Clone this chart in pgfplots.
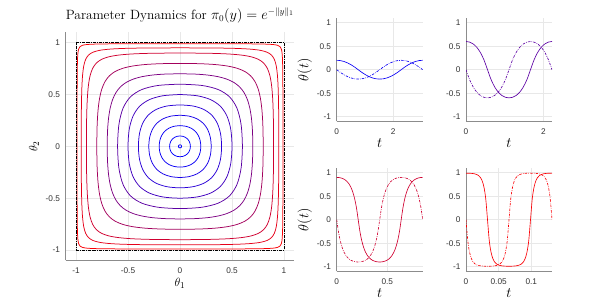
\documentclass[border=0pt]{standalone}
\usepackage{fontspec}
\usepackage{pgfplots}
\usepackage{pgfplotstable}
\pgfplotsset{compat=1.18}
\newfontfamily\tickfont{Liberation Sans}

\definecolor{cA}{rgb}{0.0002,0,0.9998}
\definecolor{cB}{rgb}{0.01,0,0.99}
\definecolor{cC}{rgb}{0.04,0,0.96}
\definecolor{cD}{rgb}{0.09,0,0.91}
\definecolor{cE}{rgb}{0.16,0,0.84}
\definecolor{cF}{rgb}{0.25,0,0.75}
\definecolor{cG}{rgb}{0.36,0,0.64}
\definecolor{cH}{rgb}{0.49,0,0.51}
\definecolor{cI}{rgb}{0.64,0,0.36}
\definecolor{cJ}{rgb}{0.81,0,0.19}
\definecolor{cK}{rgb}{0.9025,0,0.0975}
\definecolor{cL}{rgb}{0.9801,0,0.0199}

\pgfplotstableread{
t th1 th2
0 0 .2
.1267 -.0561 .1939
.2533 -.1056 .1757
.38 -.146 .146
.5067 -.1757 .1056
.6333 -.1939 .0561
.76 -.2 0
.8867 -.1939 -.0561
1.0133 -.1757 -.1056
1.14 -.146 -.146
1.2667 -.1056 -.1757
1.3933 -.0561 -.1939
1.52 0 -.2
1.6467 .0561 -.1939
1.7733 .1056 -.1757
1.9 .146 -.146
2.0267 .1757 -.1056
2.1533 .1939 -.0561
2.28 .2 0
2.4067 .1939 .0561
2.5333 .1757 .1056
2.66 .146 .146
2.7867 .1056 .1757
2.9133 .0561 .1939
3.04 0 .2
}\tsA

\pgfplotstableread{
t th1 th2
0 0 .6
.0925 -.2111 .5873
.185 -.3675 .5478
.2775 -.4769 .4769
.37 -.5478 .3675
.4625 -.5873 .2111
.555 -.6 0
.6475 -.5873 -.2111
.74 -.5478 -.3675
.8325 -.4769 -.4769
.925 -.3675 -.5478
1.0175 -.2111 -.5873
1.11 0 -.6
1.2025 .2111 -.5873
1.295 .3675 -.5478
1.3875 .4769 -.4769
1.48 .5478 -.3675
1.5725 .5873 -.2111
1.665 .6 0
1.7575 .5873 .2111
1.85 .5478 .3675
1.9425 .4769 .4769
2.035 .3675 .5478
2.1275 .2111 .5873
2.22 0 .6
}\tsB

\pgfplotstableread{
t th1 th2
0 0 .9
.0177 -.2596 .898
.0354 -.449 .8918
.0531 -.5857 .8808
.0708 -.6838 .8639
.0885 -.7538 .8391
.1063 -.8037 .8037
.1240 -.8391 .7538
.1417 -.8639 .6838
.1594 -.8808 .5857
.1771 -.8918 .449
.1948 -.898 .2596
.2125 -.9 0
.2302 -.898 -.2596
.2479 -.8918 -.449
.2656 -.8808 -.5857
.2833 -.8639 -.6838
.3010 -.8391 -.7538
.3188 -.8037 -.8037
.3365 -.7538 -.8391
.3542 -.6838 -.8639
.3719 -.5857 -.8808
.3896 -.449 -.8918
.4073 -.2596 -.898
.425 0 -.9
.4427 .2596 -.898
.4604 .449 -.8918
.4781 .5857 -.8808
.4958 .6838 -.8639
.5135 .7538 -.8391
.5313 .8037 -.8037
.5490 .8391 -.7538
.5667 .8639 -.6838
.5844 .8808 -.5857
.6021 .8918 -.449
.6198 .898 -.2596
.6375 .9 0
.6552 .898 .2596
.6729 .8918 .449
.6906 .8808 .5857
.7083 .8639 .6838
.7260 .8391 .7538
.7438 .8037 .8037
.7615 .7538 .8391
.7792 .6838 .8639
.7969 .5857 .8808
.8146 .449 .8918
.8323 .2596 .898
.85 0 .9
}\tsC

\pgfplotstableread{
t th1 th2
0 0 .99
.00274 -.4518 .9896
.00549 -.6964 .9883
.00823 -.8284 .9858
.01098 -.9 .9815
.01372 -.9394 .9741
.01646 -.9615 .9615
.01921 -.9741 .9394
.02195 -.9815 .9
.02469 -.9858 .8284
.02744 -.9883 .6964
.03018 -.9896 .4518
.03293 -.99 0
.03567 -.9896 -.4518
.03841 -.9883 -.6964
.04116 -.9858 -.8284
.0439 -.9815 -.9
.04664 -.9741 -.9394
.04939 -.9615 -.9615
.05213 -.9394 -.9741
.05488 -.9 -.9815
.05762 -.8284 -.9858
.06036 -.6964 -.9883
.06311 -.4518 -.9896
.06585 0 -.99
.06859 .4518 -.9896
.07134 .6964 -.9883
.07408 .8284 -.9858
.07683 .9 -.9815
.07957 .9394 -.9741
.08231 .9615 -.9615
.08506 .9741 -.9394
.0878 .9815 -.9
.09054 .9858 -.8284
.09329 .9883 -.6964
.09603 .9896 -.4518
.09878 .99 0
.10152 .9896 .4518
.10426 .9883 .6964
.10701 .9858 .8284
.10975 .9815 .9
.11249 .9741 .9394
.11524 .9615 .9615
.11798 .9394 .9741
.12073 .9 .9815
.12347 .8284 .9858
.12621 .6964 .9883
.12896 .4518 .9896
.1317 0 .99
}\tsD

\pgfplotsset{
  matlab/.style={
    scale only axis, anchor=south west,
    axis x line=bottom, axis y line=left,
    axis line style={-, draw=black!45, line width=0.5bp},
    tick style={draw=none},
    grid=major, grid style={draw=black!9, line width=0.5bp},
    ticklabel style={font=\tickfont\fontsize{8.3}{9}\selectfont, text=black!80},
    xticklabel style={yshift=-1.5bp},
    enlargelimits=false,
    ymin=-1.1, ymax=1.1,
    ytick={-1,-0.5,0,0.5,1}, yticklabels={-1,-0.5,0,0.5,1},
    label style={font=\fontsize{13}{15}\selectfont},
  },
  small/.style={label style={font=\fontsize{14}{16}\selectfont}},
  cont/.style={smooth, line width=0.75bp},
  ts/.style={smooth, line width=0.65bp},
  dd/.style={smooth, line width=0.65bp, dash pattern=on 2.5bp off 1.2bp on 0.6bp off 1.2bp},
}

\begin{document}
\begin{tikzpicture}
\useasboundingbox (0,0) rectangle (594bp,307bp);

\begin{axis}[matlab, at={(65.6bp,46.6bp)}, width=228.8bp, height=228.1bp,
  xmin=-1.1, xmax=1.1, xtick={-1,-0.5,0,0.5,1}, xticklabels={-1,-0.5,0,0.5,1},
  xlabel={$\theta_1$}, ylabel={$\theta_2$},
  xlabel style={at={(axis description cs:0.5,-0.099)}, anchor=center},
  ylabel style={at={(axis description cs:-0.138,0.5)}, anchor=center},
  title={Parameter Dynamics for $\pi_0(y)=e^{-\|y\|_1}$},
  title style={at={(axis description cs:0.5,1)}, anchor=base, yshift=7bp, font=\fontsize{13.5}{16}\selectfont},
]
\addplot[cA, cont] coordinates {(0,.015) (-.0075,.013) (-.013,.0075) (-.015,0) (-.013,-.0075) (-.0075,-.013) (0,-.015) (.0075,-.013) (.013,-.0075) (.015,0) (.013,.0075) (.0075,.013) (0,.015)};
\addplot[cB, cont] coordinates {(0,.1) (-.0269,.0968) (-.0513,.0872) (-.0718,.0718) (-.0872,.0513) (-.0968,.0269) (-.1,0) (-.0968,-.0269) (-.0872,-.0513) (-.0718,-.0718) (-.0513,-.0872) (-.0269,-.0968) (0,-.1) (.0269,-.0968) (.0513,-.0872) (.0718,-.0718) (.0872,-.0513) (.0968,-.0269) (.1,0) (.0968,.0269) (.0872,.0513) (.0718,.0718) (.0513,.0872) (.0269,.0968) (0,.1)};
\addplot[cC, cont] coordinates {(0,.2) (-.0561,.1939) (-.1056,.1757) (-.146,.146) (-.1757,.1056) (-.1939,.0561) (-.2,0) (-.1939,-.0561) (-.1757,-.1056) (-.146,-.146) (-.1056,-.1757) (-.0561,-.1939) (0,-.2) (.0561,-.1939) (.1056,-.1757) (.146,-.146) (.1757,-.1056) (.1939,-.0561) (.2,0) (.1939,.0561) (.1757,.1056) (.146,.146) (.1056,.1757) (.0561,.1939) (0,.2)};
\addplot[cD, cont] coordinates {(0,.3) (-.0882,.2914) (-.1633,.2657) (-.2229,.2229) (-.2657,.1633) (-.2914,.0882) (-.3,0) (-.2914,-.0882) (-.2657,-.1633) (-.2229,-.2229) (-.1633,-.2657) (-.0882,-.2914) (0,-.3) (.0882,-.2914) (.1633,-.2657) (.2229,-.2229) (.2657,-.1633) (.2914,-.0882) (.3,0) (.2914,.0882) (.2657,.1633) (.2229,.2229) (.1633,.2657) (.0882,.2914) (0,.3)};
\addplot[cE, cont] coordinates {(0,.4) (-.1239,.3895) (-.2254,.3575) (-.3032,.3032) (-.3575,.2254) (-.3895,.1239) (-.4,0) (-.3895,-.1239) (-.3575,-.2254) (-.3032,-.3032) (-.2254,-.3575) (-.1239,-.3895) (0,-.4) (.1239,-.3895) (.2254,-.3575) (.3032,-.3032) (.3575,-.2254) (.3895,-.1239) (.4,0) (.3895,.1239) (.3575,.2254) (.3032,.3032) (.2254,.3575) (.1239,.3895) (0,.4)};
\addplot[cF, cont] coordinates {(0,.5) (-.1642,.4881) (-.2929,.4513) (-.3875,.3875) (-.4513,.2929) (-.4881,.1642) (-.5,0) (-.4881,-.1642) (-.4513,-.2929) (-.3875,-.3875) (-.2929,-.4513) (-.1642,-.4881) (0,-.5) (.1642,-.4881) (.2929,-.4513) (.3875,-.3875) (.4513,-.2929) (.4881,-.1642) (.5,0) (.4881,.1642) (.4513,.2929) (.3875,.3875) (.2929,.4513) (.1642,.4881) (0,.5)};
\addplot[cG, cont] coordinates {(0,.6) (-.2111,.5873) (-.3675,.5478) (-.4769,.4769) (-.5478,.3675) (-.5873,.2111) (-.6,0) (-.5873,-.2111) (-.5478,-.3675) (-.4769,-.4769) (-.3675,-.5478) (-.2111,-.5873) (0,-.6) (.2111,-.5873) (.3675,-.5478) (.4769,-.4769) (.5478,-.3675) (.5873,-.2111) (.6,0) (.5873,.2111) (.5478,.3675) (.4769,.4769) (.3675,.5478) (.2111,.5873) (0,.6)};
\addplot[cH, cont] coordinates {(0,.7) (-.1454,.6969) (-.2677,.6874) (-.3692,.6712) (-.4523,.6475) (-.5195,.6153) (-.5732,.5732) (-.6153,.5195) (-.6475,.4523) (-.6712,.3692) (-.6874,.2677) (-.6969,.1454) (-.7,0)
(-.6969,-.1454) (-.6874,-.2677) (-.6712,-.3692) (-.6475,-.4523) (-.6153,-.5195) (-.5732,-.5732) (-.5195,-.6153) (-.4523,-.6475) (-.3692,-.6712) (-.2677,-.6874) (-.1454,-.6969) (0,-.7)
(.1454,-.6969) (.2677,-.6874) (.3692,-.6712) (.4523,-.6475) (.5195,-.6153) (.5732,-.5732) (.6153,-.5195) (.6475,-.4523) (.6712,-.3692) (.6874,-.2677) (.6969,-.1454) (.7,0)
(.6969,.1454) (.6874,.2677) (.6712,.3692) (.6475,.4523) (.6153,.5195) (.5732,.5732) (.5195,.6153) (.4523,.6475) (.3692,.6712) (.2677,.6874) (.1454,.6969) (0,.7)};
\addplot[cI, cont] coordinates {(0,.8) (-.1895,.7972) (-.3407,.7887) (-.4599,.7739) (-.5528,.7519) (-.6246,.7211) (-.6796,.6796) (-.7211,.6246) (-.7519,.5528) (-.7739,.4599) (-.7887,.3407) (-.7972,.1895) (-.8,0)
(-.7972,-.1895) (-.7887,-.3407) (-.7739,-.4599) (-.7519,-.5528) (-.7211,-.6246) (-.6796,-.6796) (-.6246,-.7211) (-.5528,-.7519) (-.4599,-.7739) (-.3407,-.7887) (-.1895,-.7972) (0,-.8)
(.1895,-.7972) (.3407,-.7887) (.4599,-.7739) (.5528,-.7519) (.6246,-.7211) (.6796,-.6796) (.7211,-.6246) (.7519,-.5528) (.7739,-.4599) (.7887,-.3407) (.7972,-.1895) (.8,0)
(.7972,.1895) (.7887,.3407) (.7739,.4599) (.7519,.5528) (.7211,.6246) (.6796,.6796) (.6246,.7211) (.5528,.7519) (.4599,.7739) (.3407,.7887) (.1895,.7972) (0,.8)};
\addplot[cJ, cont] coordinates {(0,.9) (-.2596,.898) (-.449,.8918) (-.5857,.8808) (-.6838,.8639) (-.7538,.8391) (-.8037,.8037) (-.8391,.7538) (-.8639,.6838) (-.8808,.5857) (-.8918,.449) (-.898,.2596) (-.9,0)
(-.898,-.2596) (-.8918,-.449) (-.8808,-.5857) (-.8639,-.6838) (-.8391,-.7538) (-.8037,-.8037) (-.7538,-.8391) (-.6838,-.8639) (-.5857,-.8808) (-.449,-.8918) (-.2596,-.898) (0,-.9)
(.2596,-.898) (.449,-.8918) (.5857,-.8808) (.6838,-.8639) (.7538,-.8391) (.8037,-.8037) (.8391,-.7538) (.8639,-.6838) (.8808,-.5857) (.8918,-.449) (.898,-.2596) (.9,0)
(.898,.2596) (.8918,.449) (.8808,.5857) (.8639,.6838) (.8391,.7538) (.8037,.8037) (.7538,.8391) (.6838,.8639) (.5857,.8808) (.449,.8918) (.2596,.898) (0,.9)};
\addplot[cK, cont] coordinates {(0,.95) (-.3236,.9487) (-.5395,.9446) (-.6822,.9372) (-.7764,.9253) (-.8386,.9071) (-.8798,.8798) (-.9071,.8386) (-.9253,.7764) (-.9372,.6822) (-.9446,.5395) (-.9487,.3236) (-.95,0)
(-.9487,-.3236) (-.9446,-.5395) (-.9372,-.6822) (-.9253,-.7764) (-.9071,-.8386) (-.8798,-.8798) (-.8386,-.9071) (-.7764,-.9253) (-.6822,-.9372) (-.5395,-.9446) (-.3236,-.9487) (0,-.95)
(.3236,-.9487) (.5395,-.9446) (.6822,-.9372) (.7764,-.9253) (.8386,-.9071) (.8798,-.8798) (.9071,-.8386) (.9253,-.7764) (.9372,-.6822) (.9446,-.5395) (.9487,-.3236) (.95,0)
(.9487,.3236) (.9446,.5395) (.9372,.6822) (.9253,.7764) (.9071,.8386) (.8798,.8798) (.8386,.9071) (.7764,.9253) (.6822,.9372) (.5395,.9446) (.3236,.9487) (0,.95)};
\addplot[cL, cont] coordinates {(0,.99) (-.4518,.9896) (-.6964,.9883) (-.8284,.9858) (-.9,.9815) (-.9394,.9741) (-.9615,.9615) (-.9741,.9394) (-.9815,.9) (-.9858,.8284) (-.9883,.6964) (-.9896,.4518) (-.99,0)
(-.9896,-.4518) (-.9883,-.6964) (-.9858,-.8284) (-.9815,-.9) (-.9741,-.9394) (-.9615,-.9615) (-.9394,-.9741) (-.9,-.9815) (-.8284,-.9858) (-.6964,-.9883) (-.4518,-.9896) (0,-.99)
(.4518,-.9896) (.6964,-.9883) (.8284,-.9858) (.9,-.9815) (.9394,-.9741) (.9615,-.9615) (.9741,-.9394) (.9815,-.9) (.9858,-.8284) (.9883,-.6964) (.9896,-.4518) (.99,0)
(.9896,.4518) (.9883,.6964) (.9858,.8284) (.9815,.9) (.9741,.9394) (.9615,.9615) (.9394,.9741) (.9,.9815) (.8284,.9858) (.6964,.9883) (.4518,.9896) (0,.99)};
\addplot[black, line width=1bp, dash pattern=on 3bp off 1bp on 0.8bp off 1bp] coordinates {(-1,-1) (1,-1) (1,1) (-1,1) (-1,-1)};
\end{axis}

% top-left small
\begin{axis}[matlab, small, at={(336.7bp,185.6bp)}, width=86bp, height=103.4bp,
  xmin=0, xmax=3.04, xtick={0,2}, xticklabels={0,2},
  xlabel={$t$}, ylabel={$\theta(t)$},
  xlabel style={at={(axis description cs:0.5,-0.213)}, anchor=center},
  ylabel style={at={(axis description cs:-0.37,0.5)}, anchor=center},
]
\addplot[cC, ts] table[x=t, y=th2]{\tsA};
\addplot[cC, dd] table[x=t, y=th1]{\tsA};
\end{axis}

% top-right small
\begin{axis}[matlab, small, at={(466bp,185.6bp)}, width=86bp, height=103.4bp,
  xmin=0, xmax=2.22, xtick={0,2}, xticklabels={0,2},
  xlabel={$t$},
  xlabel style={at={(axis description cs:0.5,-0.213)}, anchor=center},
]
\addplot[cG, ts] table[x=t, y=th2]{\tsB};
\addplot[cG, dd] table[x=t, y=th1]{\tsB};
\end{axis}

% bottom-left small
\begin{axis}[matlab, small, at={(336.7bp,35.6bp)}, width=86bp, height=103.4bp,
  xmin=0, xmax=0.85, xtick={0,0.5}, xticklabels={0,0.5},
  xlabel={$t$}, ylabel={$\theta(t)$},
  xlabel style={at={(axis description cs:0.5,-0.213)}, anchor=center},
  ylabel style={at={(axis description cs:-0.37,0.5)}, anchor=center},
]
\addplot[cJ, ts] table[x=t, y=th2]{\tsC};
\addplot[cJ, dd] table[x=t, y=th1]{\tsC};
\end{axis}

% bottom-right small
\begin{axis}[matlab, small, at={(466bp,35.6bp)}, width=86bp, height=103.4bp,
  xmin=0, xmax=0.1317, xtick={0,0.05,0.1}, xticklabels={0,0.05,0.1},
  xlabel={$t$},
  xlabel style={at={(axis description cs:0.5,-0.213)}, anchor=center},
]
\addplot[cL, ts] table[x=t, y=th2]{\tsD};
\addplot[cL, dd] table[x=t, y=th1]{\tsD};
\end{axis}
\end{tikzpicture}
\end{document}
